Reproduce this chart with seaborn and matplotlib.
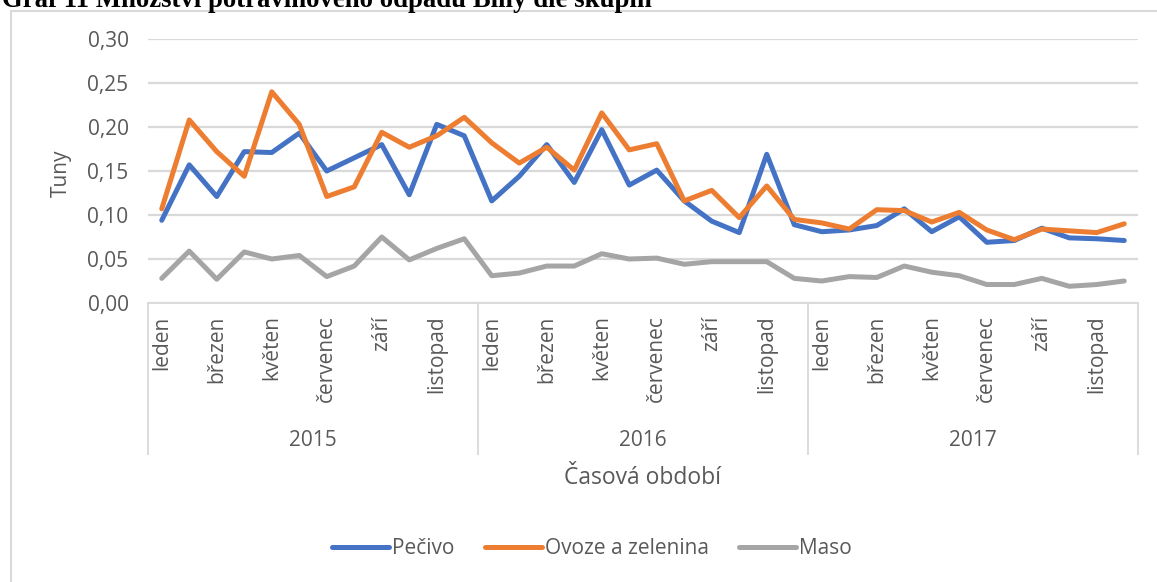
import pandas as pd
import matplotlib
matplotlib.use("Agg")
import matplotlib.pyplot as plt
import seaborn as sns
from matplotlib.patches import Rectangle

# data (tonnes per month)
years = ['2015', '2016', '2017']
months = ['leden', 'únor', 'březen', 'duben', 'květen', 'červen',
          'červenec', 'srpen', 'září', 'říjen', 'listopad', 'prosinec']

pecivo = [0.094, 0.157, 0.121, 0.172, 0.171, 0.193, 0.150, 0.165, 0.180, 0.123, 0.203, 0.190,
          0.116, 0.144, 0.180, 0.137, 0.197, 0.134, 0.151, 0.116, 0.093, 0.080, 0.169, 0.089,
          0.081, 0.083, 0.088, 0.107, 0.081, 0.098, 0.069, 0.071, 0.085, 0.074, 0.073, 0.071]
ovoce = [0.107, 0.208, 0.172, 0.144, 0.240, 0.203, 0.121, 0.132, 0.194, 0.177, 0.190, 0.211,
         0.182, 0.159, 0.177, 0.151, 0.216, 0.174, 0.181, 0.116, 0.128, 0.097, 0.133, 0.095,
         0.091, 0.084, 0.106, 0.105, 0.092, 0.103, 0.083, 0.072, 0.084, 0.082, 0.080, 0.090]
maso = [0.028, 0.059, 0.027, 0.058, 0.050, 0.054, 0.030, 0.042, 0.075, 0.049, 0.062, 0.073,
        0.031, 0.034, 0.042, 0.042, 0.056, 0.050, 0.051, 0.044, 0.047, 0.047, 0.047, 0.028,
        0.025, 0.030, 0.029, 0.042, 0.035, 0.031, 0.021, 0.021, 0.028, 0.019, 0.021, 0.025]

series_names = ['Pečivo', 'Ovoze a zelenina', 'Maso']
colors = ['#4472C4', '#ED7D31', '#A5A5A5']

# --- build long table ---
n = len(years) * len(months)
df = pd.DataFrame({
    'obdobi': range(n),
    'mesic': months * len(years),
    'rok': [y for y in years for _ in months],
    'Pečivo': pecivo,
    'Ovoze a zelenina': ovoce,
    'Maso': maso,
})
df_long = df.melt(id_vars=['obdobi', 'mesic', 'rok'], value_vars=series_names,
                  var_name='skupina', value_name='tuny')

sns.set_theme(style="white")
plt.rcParams['font.family'] = ['Open Sans', 'DejaVu Sans']
txt_col = '#595959'
grid_col = '#d9d9d9'

W, H = 1157, 582
fig = plt.figure(figsize=(W / 100, H / 100), dpi=100)
ax = fig.add_axes([148 / W, 1 - 303 / H, 990 / W, 264 / H])

sns.lineplot(data=df_long, x='obdobi', y='tuny', hue='skupina', hue_order=series_names,
             palette=colors, linewidth=3.6, sort=False, ax=ax, legend=False)

ax.set_xlim(-0.5, n - 0.5)
ax.set_ylim(0, 0.30)
yt = [0, 0.05, 0.10, 0.15, 0.20, 0.25, 0.30]
ax.set_yticks(yt)
ax.set_yticklabels([f"{v:.2f}".replace('.', ',') for v in yt], fontsize=15, color=txt_col)
ax.yaxis.grid(True, color=grid_col, linewidth=1.6)
ax.set_axisbelow(True)
for s in ['top', 'right', 'left']:
    ax.spines[s].set_visible(False)
ax.spines['bottom'].set_color(grid_col)
ax.spines['bottom'].set_linewidth(1.3)
ax.tick_params(axis='y', length=0, pad=14)

# month labels (every other month)
pos = df['obdobi'][::2].tolist()
ax.set_xticks(pos)
ax.set_xticklabels(df['mesic'][::2].tolist(), rotation=90, fontsize=15, color=txt_col)
ax.tick_params(axis='x', length=0, pad=9)
ax.set_xlabel('')
ax.set_ylabel('Tuny', fontsize=15, color=txt_col)
ax.yaxis.set_label_coords(-0.077, 0.49)

# year groups
xt = ax.get_xaxis_transform()
for k, y in enumerate(years):
    ax.text(k * 12 + 5.5, -0.52, y, transform=xt, ha='center', va='center',
            fontsize=15, color=txt_col)
ax.vlines([k * 12 - 0.5 for k in range(len(years) + 1)], -0.576, 0, transform=xt,
          colors=grid_col, linewidth=1.3, clip_on=False)

ax.text(0.5, -0.663, 'Časová období', transform=ax.transAxes, ha='center', va='center',
        fontsize=16.5, color=txt_col)

# legend
handles = [plt.Line2D([0], [0], color=c, linewidth=3.6) for c in colors]
fig.legend(handles, series_names, loc='center', bbox_to_anchor=(592 / W, 1 - 549 / H),
           ncol=3, frameon=False, fontsize=15, labelcolor=txt_col,
           handlelength=2.74, handletextpad=0.15, columnspacing=1.44)

# chart area frame and the cut-off caption above it
fig.patches.append(Rectangle((11 / W, -0.1), 1.2, 1.1 - 11 / H, transform=fig.transFigure,
                             fill=False, edgecolor=grid_col, linewidth=1.5))
fig.text(2 / W, 1 - 7 / H, 'Graf 11 Množství potravinového odpadu Billy dle skupin',
         family='Liberation Serif', fontweight='bold', fontsize=19.3, color='black',
         ha='left', va='baseline')

fig.savefig('out.png', dpi=100)
